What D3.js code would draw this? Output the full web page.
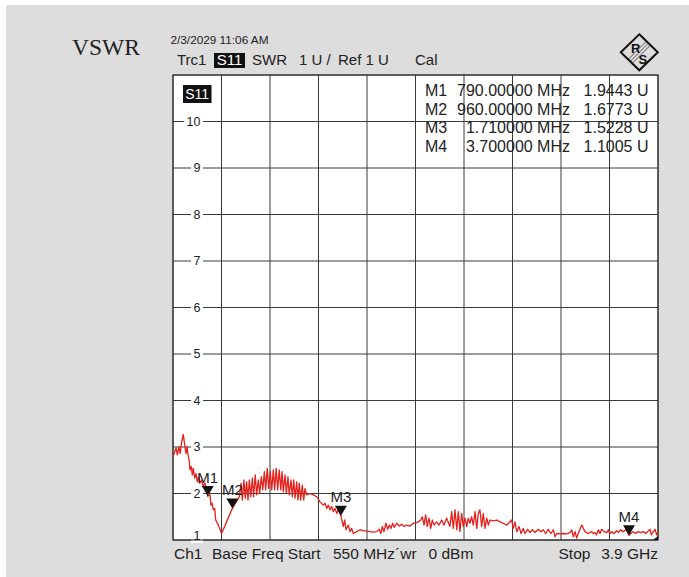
<!DOCTYPE html>
<html>
<head>
<meta charset="utf-8">
<script src="https://cdn.jsdelivr.net/npm/d3@7"></script>
<style>
  html, body { margin: 0; padding: 0; background: #ffffff; }
  svg { display: block; font-family: Arial, "Liberation Sans", sans-serif; }
</style>
</head>
<body>
<svg id="chart" width="689" height="577"></svg>
<script>
// ---------------- data ----------------
const freqMHz = [550,571,580,591,600,610,621,631,640,647,654,663,667,676,683,690,700,709,718,727,736,748,759,771,783,790,806,812,821,828,838,845,863,886,960,1008,1020,1029,1040,1049,1059,1068,1077,1087,1098,1107,1118,1128,1139,1149,1160,1170,1181,1190,1201,1211,1222,1232,1243,1252,1263,1273,1284,1294,1303,1312,1324,1333,1344,1353,1365,1374,1384,1393,1404,1413,1422,1432,1443,1453,1462,1473,1496,1519,1543,1565,1588,1600,1612,1623,1634,1646,1657,1669,1681,1692,1710,1726,1736,1745,1761,1773,1784,1795,1819,1842,1864,1888,1911,1934,1957,1975,1985,1996,2007,2021,2033,2044,2056,2067,2078,2095,2113,2130,2146,2164,2187,2210,2228,2244,2261,2272,2284,2295,2306,2318,2330,2341,2353,2371,2387,2406,2422,2440,2463,2475,2486,2498,2510,2521,2532,2544,2555,2567,2579,2590,2601,2613,2624,2636,2648,2659,2670,2682,2693,2705,2717,2728,2740,2762,2786,2809,2831,2855,2871,2889,2900,2912,2924,2940,2954,2970,2981,3000,3016,3032,3050,3073,3092,3108,3124,3142,3161,3177,3189,3200,3223,3246,3269,3292,3304,3315,3327,3338,3349,3373,3384,3396,3418,3442,3453,3465,3476,3488,3499,3511,3527,3546,3557,3568,3580,3596,3615,3626,3642,3660,3679,3700,3712,3727,3746,3762,3781,3799,3815,3831,3845,3854,3868,3879,3891,3900];
const vswr = [2.79,2.98,2.83,3.01,2.86,3.11,3.27,3.04,2.86,3.01,2.83,2.68,2.51,2.58,2.40,2.54,2.33,2.43,2.25,2.36,2.22,2.29,2.15,2.22,2.08,1.94,1.97,1.75,1.79,1.65,1.68,1.43,1.32,1.14,1.68,1.93,2.22,1.86,2.29,1.90,2.25,1.86,2.29,1.93,2.33,1.93,2.40,1.97,2.29,2.00,2.36,2.08,2.47,2.08,2.54,2.11,2.47,2.08,2.51,2.08,2.54,2.08,2.51,2.08,2.47,2.04,2.40,2.00,2.36,1.97,2.29,1.93,2.29,1.90,2.25,1.86,2.22,1.86,2.18,1.86,2.11,1.97,2.00,1.97,1.93,1.82,1.75,1.79,1.68,1.75,1.65,1.72,1.61,1.68,1.57,1.65,1.52,1.29,1.43,1.22,1.32,1.18,1.25,1.14,1.18,1.22,1.20,1.19,1.18,1.17,1.18,1.23,1.14,1.29,1.18,1.36,1.23,1.32,1.25,1.36,1.27,1.36,1.30,1.34,1.29,1.32,1.30,1.36,1.37,1.39,1.43,1.50,1.32,1.54,1.29,1.47,1.25,1.43,1.32,1.39,1.32,1.43,1.32,1.47,1.29,1.61,1.25,1.65,1.22,1.61,1.18,1.57,1.29,1.47,1.29,1.47,1.36,1.50,1.32,1.61,1.25,1.57,1.65,1.29,1.57,1.25,1.47,1.32,1.43,1.41,1.43,1.39,1.36,1.32,1.37,1.43,1.25,1.39,1.18,1.29,1.14,1.25,1.14,1.23,1.16,1.22,1.16,1.23,1.18,1.22,1.14,1.23,1.14,1.22,1.07,1.14,1.13,1.14,1.13,1.16,1.22,1.07,1.18,1.04,1.14,1.32,1.25,1.18,1.14,1.18,1.14,1.16,1.11,1.22,1.14,1.23,1.18,1.16,1.22,1.13,1.18,1.14,1.20,1.16,1.22,1.18,1.23,1.10,1.14,1.18,1.14,1.18,1.16,1.18,1.14,1.19,1.23,1.11,1.18,1.23,1.11,1.17];

const markerNames = ["M1", "M2", "M3", "M4"];
const markerFreqs = [790, 960, 1710, 3700];
const markerVals  = [1.9443, 1.6773, 1.5228, 1.1005];
const markerFreqText = ["790.00000 MHz", "960.00000 MHz", "1.710000 MHz", "3.700000 MHz"];
const markerValText  = ["1.9443 U", "1.6773 U", "1.5228 U", "1.1005 U"];

const yTickValues = [1, 2, 3, 4, 5, 6, 7, 8, 9, 10];
const startFreq = 550, stopFreq = 3900;
const yMin = 1, yMax = 11;
const nDivX = 10;

// ---------------- layout ----------------
const L = 173, R = 658, T = 75, B = 540;
const svg = d3.select("#chart");

const x = d3.scaleLinear().domain([startFreq, stopFreq]).range([L, R]);
const y = d3.scaleLinear().domain([yMin, yMax]).range([B, T]);

// background
svg.append("rect").attr("x", 0).attr("y", 0).attr("width", 689).attr("height", 577).attr("fill", "#ffffff");
svg.append("rect").attr("x", 6).attr("y", 5).attr("width", 683).attr("height", 572).attr("fill", "#dddddd");

// plot area
svg.append("rect").attr("x", L).attr("y", T).attr("width", R - L).attr("height", B - T).attr("fill", "#ffffff");

const gridColor = "#3a3a3a";
const grid = svg.append("g");
const xGrid = d3.range(0, nDivX + 1).map(i => startFreq + i * (stopFreq - startFreq) / nDivX);
grid.selectAll("line.v").data(xGrid).join("line")
  .attr("x1", d => x(d)).attr("x2", d => x(d)).attr("y1", T).attr("y2", B)
  .attr("stroke", gridColor).attr("stroke-width", 1);
const yGrid = d3.range(yMin, yMax + 1);
grid.selectAll("line.h").data(yGrid).join("line")
  .attr("x1", L).attr("x2", R).attr("y1", d => y(d)).attr("y2", d => y(d))
  .attr("stroke", gridColor).attr("stroke-width", 1);

// y tick labels with white knock-out
const yl = svg.append("g");
yTickValues.forEach(v => {
  const cy = v === 1 ? y(v) - 4 : y(v);
  const g = yl.append("g");
  const t = g.append("text").attr("x", 200.5).attr("y", cy)
    .attr("text-anchor", "end").attr("dominant-baseline", "central")
    .attr("font-size", 12.5).attr("fill", "#222").text(v);
  const bb = t.node().getBBox();
  g.insert("rect", "text").attr("x", bb.x - 2.5).attr("y", y(v) - 3)
    .attr("width", bb.width + 5).attr("height", 6).attr("fill", "#ffffff");
});

// plot border
svg.append("rect").attr("x", L).attr("y", T).attr("width", R - L).attr("height", B - T)
  .attr("fill", "none").attr("stroke", "#222").attr("stroke-width", 1);

// trace
svg.append("clipPath").attr("id", "clip").append("rect")
  .attr("x", L).attr("y", T).attr("width", R - L).attr("height", B - T);
const pts = freqMHz.map((f, i) => [f, vswr[i]]);
svg.append("path").datum(pts)
  .attr("clip-path", "url(#clip)")
  .attr("d", d3.line().x(d => x(d[0])).y(d => y(d[1])))
  .attr("fill", "none").attr("stroke", "#e3201b").attr("stroke-width", 1.3)
  .attr("stroke-linejoin", "round");

// markers
const mk = svg.append("g");
markerNames.forEach((n, i) => {
  const px = x(markerFreqs[i]), py = y(markerVals[i]);
  mk.append("path")
    .attr("d", `M${px - 6},${py - 10} L${px + 6},${py - 10} L${px},${py} Z`)
    .attr("fill", "#111");
  mk.append("text").attr("x", px).attr("y", py - 13.5).attr("text-anchor", "middle")
    .attr("font-size", 15).attr("fill", "#222").text(n);
});
// small corner marker
svg.append("path").attr("d", `M${R - 5},${B} L${R},${B - 4} L${R},${B} Z`).attr("fill", "#111");

// S11 label inside plot
svg.append("rect").attr("x", 183).attr("y", 85).attr("width", 28.5).attr("height", 18).attr("fill", "#111");
svg.append("text").attr("x", 197.2).attr("y", 99).attr("text-anchor", "middle")
  .attr("font-size", 14).attr("fill", "#fff").text("S11");

// marker table
const tb = svg.append("g").attr("font-size", 16).attr("fill", "#222");
const rowBase = [96, 114.5, 133, 151.5];
markerNames.forEach((n, i) => {
  tb.append("text").attr("x", 425).attr("y", rowBase[i]).text(n);
  tb.append("text").attr("x", 570).attr("y", rowBase[i]).attr("text-anchor", "end").text(markerFreqText[i]);
  tb.append("text").attr("x", 648.5).attr("y", rowBase[i]).attr("text-anchor", "end").text(markerValText[i]);
});

// title and header
svg.append("text").attr("x", 72).attr("y", 55)
  .style("font-family", "'Liberation Serif', 'Times New Roman', serif")
  .attr("font-size", 23.5).attr("fill", "#222").text("VSWR");
svg.append("text").attr("x", 170.5).attr("y", 44).attr("font-size", 11.5).attr("fill", "#222")
  .attr("textLength", 98).attr("lengthAdjust", "spacingAndGlyphs").text("2/3/2029 11:06 AM");

const hd = svg.append("g").attr("font-size", 15).attr("fill", "#222");
hd.append("text").attr("x", 177).attr("y", 65).text("Trc1");
hd.append("rect").attr("x", 214).attr("y", 53).attr("width", 31).attr("height", 15).attr("fill", "#111");
hd.append("text").attr("x", 229.5).attr("y", 65).attr("text-anchor", "middle").attr("fill", "#fff").text("S11");
hd.append("text").attr("x", 252).attr("y", 65).text("SWR");
hd.append("text").attr("x", 299).attr("y", 65).text("1 U /");
hd.append("text").attr("x", 338).attr("y", 65).text("Ref 1 U");
hd.append("text").attr("x", 415).attr("y", 65).text("Cal");

// footer
const ft = svg.append("g").attr("font-size", 15.5).attr("fill", "#222");
ft.append("text").attr("x", 174).attr("y", 559).text("Ch1");
ft.append("text").attr("x", 212).attr("y", 559).text("Base Freq Start");
ft.append("text").attr("x", 333).attr("y", 559).text("550 MHz\u00B4wr");
ft.append("text").attr("x", 428.5).attr("y", 559).text("0 dBm");
ft.append("text").attr("x", 558.5).attr("y", 559).text("Stop");
ft.append("text").attr("x", 658).attr("y", 559).attr("text-anchor", "end").text("3.9 GHz");

// logo
const lg = svg.append("g").attr("transform", "translate(639.3,52.3)");
lg.append("path").attr("d", "M0,-18 L18.5,0 L0,18 L-18.5,0 Z")
  .attr("fill", "none").attr("stroke", "#111").attr("stroke-width", 2);
[-2, 0, 2].forEach(o => {
  lg.append("line").attr("x1", -9 + o).attr("y1", 9 + o).attr("x2", 9 + o).attr("y2", -9 + o)
    .attr("stroke", "#333").attr("stroke-width", 0.8);
});
lg.append("text").attr("x", -3.5).attr("y", 1).attr("text-anchor", "middle")
  .attr("font-size", 13).attr("font-weight", "bold").attr("fill", "#111").text("R");
lg.append("text").attr("x", 3.5).attr("y", 12).attr("text-anchor", "middle")
  .attr("font-size", 13).attr("font-weight", "bold").attr("fill", "#111").text("S");
</script>
</body>
</html>
